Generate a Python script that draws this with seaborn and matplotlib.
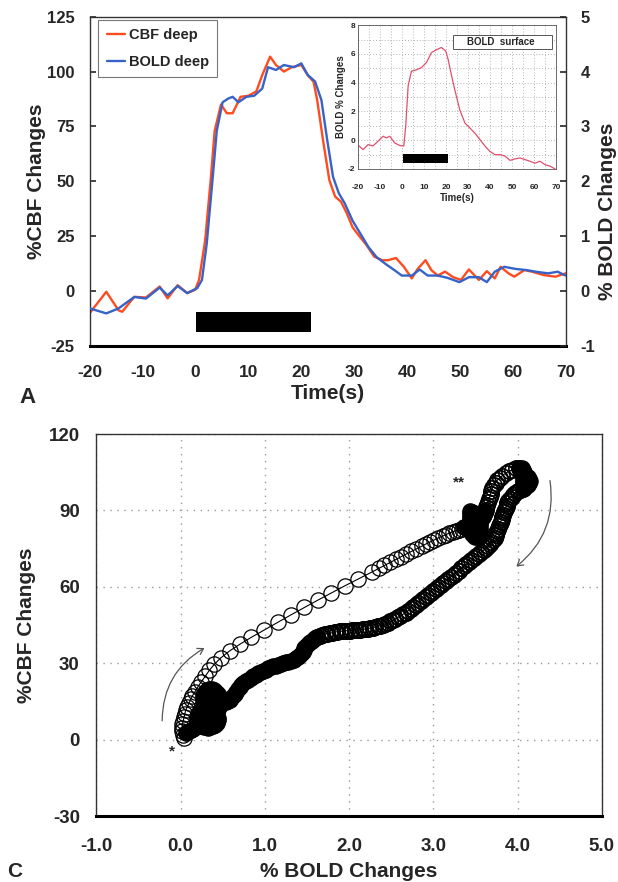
import numpy as np
import pandas as pd
import seaborn as sns
import matplotlib.pyplot as plt
from matplotlib.patches import FancyArrowPatch, Rectangle
from matplotlib.lines import Line2D
from matplotlib.ticker import FormatStrFormatter, MultipleLocator

# ---------------- data ----------------
# Panel A: deep-layer time courses (time in s)
t_cbf = [-20, -16.9, -14.6, -13.9, -11.6, -9.4, -6.8, -5.3, -3.4, -1.6, -0.1, 0.65,
         1.8, 2.9, 3.6, 4.8, 5.9, 7.0, 8.5, 10.0, 11.5, 12.6, 14.1, 15.2, 16.7, 18.2,
         20.0, 21.2, 22.3, 23.0, 24.1, 25.3, 26.4, 27.5, 28.6, 29.7, 30.8, 32.3, 33.8,
         35.3, 36.4, 37.9, 39.4, 40.9, 42.0, 43.5, 44.6, 45.8, 47.2, 48.7, 50.2, 51.7,
         53.6, 55.1, 56.6, 57.7, 59.2, 60.3, 62.2, 63.6, 65.9, 68.1, 70.0]
cbf_deep = [-10, -0.4, -8.8, -9.5, -2.7, -3.0, 2.0, -3.4, 2.6, -1.0, 0.5, 5.0,
            23, 52, 73, 85, 81, 81, 88.5, 89, 91, 98.4, 106.8, 103, 100, 102,
            103, 98.4, 95.4, 87, 68.8, 50.5, 43, 40.7, 35.4, 29, 25.5, 21, 15.6,
            14, 14, 15, 11, 5.7, 10, 14, 9.5, 7, 8.8, 6.3, 5, 9.8,
            5, 9, 5.7, 11, 8, 6.5, 9.5, 8.8, 7.2, 6.5, 8]

t_bold = [-20, -16.9, -14.6, -11.6, -9.4, -6.8, -5.3, -3.4, -1.6, 0.3, 1.2, 2.1,
          3.3, 4.0, 5.1, 6.2, 7.0, 8.1, 9.6, 11.1, 12.6, 13.7, 15.2, 16.7, 18.6,
          20.0, 21.2, 22.6, 23.8, 24.9, 26.0, 27.1, 28.2, 29.7, 31.2, 32.7, 34.2,
          36.1, 37.6, 39.0, 40.9, 42.4, 43.9, 45.8, 47.6, 49.9, 51.7, 53.6, 55.1,
          56.6, 58.4, 60.6, 62.6, 64.4, 66.7, 68.5, 70.0]
bold_deep = [-0.32, -0.41, -0.32, -0.11, -0.14, 0.06, -0.08, 0.09, -0.04, 0.05, 0.20, 0.86,
             2.14, 2.92, 3.44, 3.51, 3.54, 3.44, 3.54, 3.56, 3.69, 4.08, 4.03, 4.12, 4.08,
             4.15, 3.94, 3.82, 3.48, 2.75, 2.08, 1.78, 1.60, 1.28, 1.04, 0.80, 0.62,
             0.48, 0.38, 0.28, 0.28, 0.39, 0.28, 0.28, 0.24, 0.16, 0.25, 0.25, 0.16,
             0.35, 0.44, 0.40, 0.38, 0.35, 0.32, 0.35, 0.28]

# Inset: surface-layer BOLD
t_surf = [-19.5, -17.7, -15.4, -13.2, -10.9, -8.6, -7.1, -5.6, -3.3, -1.0, 0.8, 1.7,
          2.8, 4.3, 6.6, 8.8, 11.1, 13.4, 15.7, 17.9, 19.9, 21.0, 22.5, 24.0, 26.3,
          28.6, 30.8, 33.1, 35.4, 37.7, 39.9, 42.2, 44.5, 46.8, 49.1, 51.3, 53.6,
          55.9, 58.2, 60.4, 62.7, 65.0, 67.3, 69.6]
bold_surf = [-0.4, -0.65, -0.3, -0.4, -0.07, 0.28, 0.16, 0.28, -0.19, -0.37, -0.4, 1.0,
             3.8, 4.8, 4.9, 5.05, 5.4, 6.1, 6.3, 6.45, 6.2, 5.6, 4.5, 3.5, 2.1,
             1.2, 0.86, 0.5, 0.05, -0.4, -0.77, -1.0, -1.0, -1.1, -1.4, -1.3, -1.23,
             -1.35, -1.46, -1.6, -1.46, -1.7, -1.8, -2.0]

# Stimulation periods (s) and the height of the stimulus bars
stim_main = (0.0, 21.8)
stim_main_band = (-18.6, -9.5)
stim_inset = (0.5, 21.0)
stim_inset_band = (-1.55, -0.95)

# Panel C: CBF vs BOLD trajectory, split into its phases (in time order)
bold_rise = [0.04, 0.03, 0.02, 0.02, 0.02, 0.03, 0.04, 0.05, 0.06, 0.08, 0.10, 0.12, 0.14, 0.17,
             0.20, 0.24, 0.29, 0.34, 0.40, 0.48, 0.58, 0.70, 0.84, 0.99, 1.15, 1.31, 1.47, 1.63,
             1.79, 1.95, 2.11, 2.27, 2.35, 2.42, 2.49, 2.56, 2.62, 2.68, 2.74, 2.80, 2.86, 2.91,
             2.96, 3.01, 3.06, 3.11, 3.15, 3.19, 3.23, 3.27, 3.31, 3.34, 3.37]
cbf_rise = [0.5, 1.8, 3.2, 4.6, 6.0, 7.4, 8.8, 10.2, 11.6, 13.0, 14.4, 15.8, 17.2, 18.8,
            20.5, 22.5, 24.8, 27.2, 29.6, 32.2, 34.8, 37.4, 40.2, 43.0, 46.0, 49.0, 51.9, 54.8,
            57.6, 60.4, 63.1, 65.8, 67.2, 68.4, 69.6, 70.8, 71.9, 72.9, 73.9, 74.9, 75.9, 76.8,
            77.6, 78.4, 79.2, 79.9, 80.5, 81.1, 81.6, 82.1, 82.5, 82.9, 83.3]
# plateau dip marked **
bold_dip = [3.37, 3.40, 3.42, 3.44, 3.45, 3.46, 3.48, 3.50, 3.52, 3.54, 3.55, 3.56, 3.56, 3.55,
            3.54, 3.52, 3.50, 3.48, 3.46, 3.44, 3.43, 3.43, 3.44, 3.46, 3.49, 3.52, 3.55, 3.57,
            3.59, 3.60, 3.61]
cbf_dip = [83.3, 83.4, 83.2, 82.6, 81.8, 80.9, 80.1, 79.6, 79.7, 80.4, 81.4, 82.5, 83.6, 84.7,
           85.8, 86.9, 87.9, 88.8, 89.5, 89.6, 89.0, 88.0, 87.0, 86.2, 85.6, 85.4, 85.7, 86.4,
           87.3, 88.3, 89.3]
bold_climb = [3.61, 3.62, 3.63, 3.64, 3.65, 3.66, 3.67, 3.68, 3.69, 3.70, 3.72, 3.74,
              3.76, 3.79, 3.82, 3.86, 3.90, 3.94, 3.98, 4.02]
cbf_climb = [89.3, 90.2, 91.2, 92.2, 93.2, 94.3, 95.4, 96.5, 97.6, 98.7, 99.8, 100.9,
             101.9, 102.8, 103.7, 104.6, 105.4, 106.0, 106.5, 106.8]
bold_peak = [4.02, 4.05, 4.07, 4.08, 4.08, 4.07, 4.06, 4.06, 4.08, 4.10, 4.12, 4.14, 4.15, 4.14,
             4.12, 4.10, 4.10, 4.11, 4.10, 4.08]
cbf_peak = [106.8, 106.6, 106.0, 105.1, 104.1, 103.1, 102.1, 101.1, 100.3, 99.8, 100.0, 100.7,
            101.6, 102.5, 103.0, 102.6, 101.6, 100.6, 99.6, 99.0]
bold_fall = [4.08, 4.06, 4.03, 4.00, 3.97, 3.95, 3.93, 3.91, 3.89, 3.88, 3.87, 3.86, 3.85, 3.84,
             3.83, 3.82, 3.81, 3.80, 3.79, 3.78, 3.77, 3.76, 3.75, 3.74, 3.73, 3.71, 3.69, 3.67,
             3.65, 3.62, 3.60, 3.57, 3.54, 3.51, 3.48, 3.45, 3.42, 3.39, 3.36, 3.33, 3.30, 3.27,
             3.24, 3.21, 3.18, 3.15, 3.12, 3.09, 3.06, 3.03, 3.00, 2.97, 2.94, 2.91, 2.88, 2.85,
             2.82, 2.79, 2.76, 2.73, 2.70, 2.67, 2.64, 2.61, 2.58, 2.55, 2.52, 2.49, 2.46, 2.43,
             2.40, 2.37, 2.34, 2.31, 2.28, 2.25, 2.22, 2.19, 2.16, 2.13, 2.10, 2.07, 2.04, 2.01,
             1.98, 1.95, 1.92, 1.89, 1.86, 1.83, 1.80, 1.77, 1.74, 1.71, 1.68, 1.65, 1.62]
cbf_fall = [99.0, 98.6, 98.1, 97.6, 96.9, 96.2, 95.4, 94.6, 93.7, 92.8, 91.9, 91.0, 90.1, 89.2,
            88.3, 87.4, 86.5, 85.6, 84.7, 83.8, 82.9, 82.0, 81.1, 80.2, 79.3, 78.4, 77.6, 76.8,
            76.0, 75.2, 74.4, 73.6, 72.8, 72.0, 71.2, 70.4, 69.6, 68.8, 68.0, 67.2, 66.4, 65.6,
            64.8, 64.0, 63.2, 62.4, 61.6, 60.8, 60.0, 59.2, 58.4, 57.6, 56.8, 56.0, 55.2, 54.4,
            53.6, 52.8, 52.0, 51.3, 50.6, 49.9, 49.2, 48.6, 48.0, 47.4, 46.9, 46.4, 45.9, 45.5,
            45.1, 44.8, 44.5, 44.2, 44.0, 43.8, 43.6, 43.4, 43.3, 43.2, 43.1, 43.0, 42.9, 42.85,
            42.8, 42.7, 42.6, 42.5, 42.4, 42.2, 42.0, 41.8, 41.6, 41.3, 41.0, 40.6, 40.2]
# slow tail and post-stimulus dwell near baseline
bold_tail = [1.62, 1.60, 1.58, 1.56, 1.54, 1.52, 1.50, 1.48, 1.47, 1.46, 1.45, 1.43, 1.41, 1.39,
             1.37, 1.34, 1.31, 1.28, 1.25, 1.22, 1.19, 1.16, 1.13, 1.10, 1.07, 1.04, 1.01, 0.98,
             0.95, 0.92, 0.89, 0.86, 0.83, 0.80, 0.77, 0.74, 0.72, 0.70, 0.68, 0.66, 0.64, 0.62,
             0.60, 0.58, 0.56, 0.54, 0.52, 0.50, 0.48, 0.46, 0.44, 0.42, 0.40, 0.37, 0.34, 0.31,
             0.29, 0.27, 0.26, 0.26, 0.27, 0.29, 0.32, 0.35, 0.38, 0.41, 0.43, 0.44, 0.44, 0.43,
             0.41, 0.38, 0.35, 0.32, 0.28, 0.25, 0.22, 0.20, 0.19, 0.19, 0.20, 0.22, 0.25, 0.28,
             0.31, 0.34, 0.37, 0.40, 0.42, 0.44, 0.45, 0.45, 0.44, 0.42, 0.39, 0.36, 0.33, 0.30,
             0.27, 0.24, 0.21, 0.18, 0.15, 0.12, 0.10, 0.08, 0.06]
cbf_tail = [40.2, 39.8, 39.4, 38.9, 38.4, 37.8, 37.2, 36.5, 35.8, 35.1, 34.4, 33.7, 33.0, 32.4,
            31.9, 31.4, 31.0, 30.6, 30.3, 30.0, 29.7, 29.4, 29.1, 28.8, 28.4, 28.0, 27.5, 27.0,
            26.5, 26.0, 25.4, 24.8, 24.2, 23.6, 22.9, 22.2, 21.4, 20.6, 19.7, 18.8, 17.9, 17.0,
            16.2, 15.5, 15.0, 14.7, 14.8, 15.3, 16.0, 17.0, 18.0, 18.8, 19.4, 19.8, 19.8, 19.4,
            18.6, 17.6, 16.4, 15.2, 14.0, 13.0, 12.2, 11.6, 11.0, 10.3, 9.5, 8.6, 7.6, 6.7,
            5.9, 5.3, 4.9, 4.7, 4.8, 5.2, 5.9, 6.8, 7.8, 8.8, 9.8, 10.7, 11.5, 12.3,
            13.1, 13.9, 14.6, 15.3, 15.8, 15.0, 14.0, 13.0, 12.0, 11.2, 10.5, 9.8, 9.0, 8.2,
            7.4, 6.6, 5.8, 5.0, 4.3, 3.7, 3.2, 2.8, 2.5]

x_ticks_a = [-20, -10, 0, 10, 20, 30, 40, 50, 60, 70]
y_ticks_a = [-25, 0, 25, 50, 75, 100, 125]
y_ticks_a2 = [-1, 0, 1, 2, 3, 4, 5]
x_ticks_c = [-1.0, 0.0, 1.0, 2.0, 3.0, 4.0, 5.0]
y_ticks_c = [-30, 0, 30, 60, 90, 120]

CBF_COLOR = "#ff4b1f"
BOLD_COLOR = "#3563c8"
SURF_COLOR = "#e0506e"

# ---------------- style ----------------
sns.set_theme(style="white")
plt.rcParams['font.family'] = ['Liberation Sans', 'DejaVu Sans']
plt.rcParams['font.weight'] = 'bold'
plt.rcParams['axes.labelweight'] = 'bold'
plt.rcParams['axes.unicode_minus'] = False

fig = plt.figure(figsize=(6.18, 8.82), dpi=100)

# ---------------- panel A ----------------
ax = fig.add_axes([0.1455, 0.608, 0.7697, 0.373])
sns.lineplot(x=t_cbf, y=cbf_deep, ax=ax, color=CBF_COLOR, lw=1.7, legend=False)
ax.fill_between(list(stim_main), stim_main_band[0], stim_main_band[1], color="black", lw=0)
ax.set_xlim(-20, 70)
ax.set_ylim(-25, 125)
ax.set_xticks(x_ticks_a)
ax.set_yticks(y_ticks_a)
ax.tick_params(axis="x", direction="in", length=4, width=1.2, labelsize=12.5, pad=14)
ax.tick_params(axis="y", direction="in", length=4, width=1.2, labelsize=12, pad=11)
ax.set_xlabel("Time(s)", fontsize=15)
ax.set_ylabel("%CBF Changes", fontsize=15)
ax.xaxis.set_label_coords(0.5, -0.115)
ax.yaxis.set_label_coords(-0.092, 0.5)
for s in ["top", "left", "right"]:
    ax.spines[s].set_linewidth(1.0)
    ax.spines[s].set_color("#333333")
ax.spines["bottom"].set_linewidth(2.2)
ax.spines["bottom"].set_color("black")

ax2 = ax.twinx()
sns.lineplot(x=t_bold, y=bold_deep, ax=ax2, color=BOLD_COLOR, lw=1.7, legend=False)
ax2.set_ylim(-1, 5)
ax2.set_yticks(y_ticks_a2)
ax2.tick_params(axis="y", direction="in", length=4, width=1.2, labelsize=12, pad=11)
ax2.set_ylabel("")
for s in ax2.spines.values():
    s.set_visible(False)
fig.text(0.983, 0.76, "% BOLD Changes", rotation=90, ha="center", va="center",
         fontsize=15, fontweight="bold")

handles = [Line2D([], [], color=CBF_COLOR, lw=1.7), Line2D([], [], color=BOLD_COLOR, lw=1.7)]
leg = ax2.legend(handles, ["CBF deep", "BOLD deep"], loc="upper left",
                 bbox_to_anchor=(0.018, 0.99), fontsize=10.5, frameon=True, fancybox=False,
                 edgecolor="#777777", framealpha=1, handlelength=1.3, handletextpad=0.25,
                 labelspacing=0.9, borderpad=0.55, borderaxespad=0)
leg.get_frame().set_linewidth(0.8)

# inset: surface BOLD
axi = fig.add_axes([0.5793, 0.8084, 0.3204, 0.163])
axi.set_zorder(5)
sns.lineplot(x=t_surf, y=bold_surf, ax=axi, color=SURF_COLOR, lw=0.9, legend=False)
axi.fill_between(list(stim_inset), stim_inset_band[0], stim_inset_band[1], color="black", lw=0)
axi.set_xlim(-20, 70)
axi.set_ylim(-2, 8)
axi.set_xticks(x_ticks_a)
axi.set_yticks([-2, 0, 2, 4, 6, 8])
axi.xaxis.set_minor_locator(MultipleLocator(5))
axi.yaxis.set_minor_locator(MultipleLocator(1))
axi.grid(which="both", color="#9a9a9a", ls=(0, (1, 2.5)), lw=0.6)
axi.tick_params(axis="x", which="both", length=0, labelsize=6, pad=11)
axi.tick_params(axis="y", which="both", length=0, labelsize=6, pad=2)
axi.set_xlabel("Time(s)", fontsize=7, labelpad=1)
axi.set_ylabel("BOLD % Changes", fontsize=7, labelpad=1)
for s in axi.spines.values():
    s.set_linewidth(0.6)
    s.set_color("#555555")
axi.add_patch(Rectangle((0.48, 0.835), 0.50, 0.10, transform=axi.transAxes, fc="white",
                        ec="#555555", lw=0.7, zorder=6))
axi.text(0.72, 0.886, "BOLD  surface", transform=axi.transAxes, ha="center", va="center",
         fontsize=7, fontweight="bold", zorder=7)

fig.text(0.045, 0.549, "A", fontsize=16, fontweight="bold", ha="center", va="center")

# ---------------- panel C ----------------
axc = fig.add_axes([0.1561, 0.0748, 0.8176, 0.4331])


def trace(xs, ys, filled, mew):
    sns.lineplot(x=xs, y=ys, ax=axc, sort=False, estimator=None, color="black", lw=0.8,
                 marker="o", markersize=11, markerfacecolor="black" if filled else "none",
                 markeredgecolor="black", markeredgewidth=mew, legend=False)


trace(bold_rise, cbf_rise, False, 0.9)
trace(bold_climb, cbf_climb, False, 1.2)
trace(bold_fall, cbf_fall, False, 1.3)
trace(bold_dip, cbf_dip, True, 0.9)
trace(bold_peak, cbf_peak, True, 0.9)
trace(bold_tail, cbf_tail, True, 0.9)

axc.set_xlim(-1.0, 5.0)
axc.set_ylim(-30, 120)
axc.set_xticks(x_ticks_c)
axc.set_yticks(y_ticks_c)
axc.xaxis.set_major_formatter(FormatStrFormatter("%.1f"))
axc.grid(True, color="#9a9a9a", ls=(0, (1, 4)), lw=1.0)
axc.tick_params(axis="x", direction="in", length=3, width=1.0, labelsize=13.5, pad=16)
axc.tick_params(axis="y", direction="in", length=3, width=1.0, labelsize=13.5, pad=12)
axc.set_xlabel("% BOLD Changes", fontsize=15)
axc.set_ylabel("%CBF Changes", fontsize=15)
axc.xaxis.set_label_coords(0.5, -0.12)
axc.yaxis.set_label_coords(-0.12, 0.5)
for s in ["top", "left", "right"]:
    axc.spines[s].set_linewidth(1.0)
    axc.spines[s].set_color("#333333")
axc.spines["bottom"].set_linewidth(2.2)
axc.spines["bottom"].set_color("black")

arrow_kw = dict(arrowstyle="->,head_length=4,head_width=2.5", color="#555555", lw=0.9,
                mutation_scale=1)
axc.add_patch(FancyArrowPatch((-0.22, 6.3), (0.31, 36.5), connectionstyle="arc3,rad=-0.3",
                              **arrow_kw))
axc.add_patch(FancyArrowPatch((4.38, 102.8), (3.96, 67.3), connectionstyle="arc3,rad=-0.3",
                              **arrow_kw))
axc.text(-0.1, -4.5, "*", fontsize=11, ha="center", va="center")
axc.text(3.30, 100.8, "**", fontsize=11, ha="center", va="center")

fig.text(0.024, 0.012, "C", fontsize=15, fontweight="bold", ha="center", va="center")

fig.savefig("out.png", dpi=100)
